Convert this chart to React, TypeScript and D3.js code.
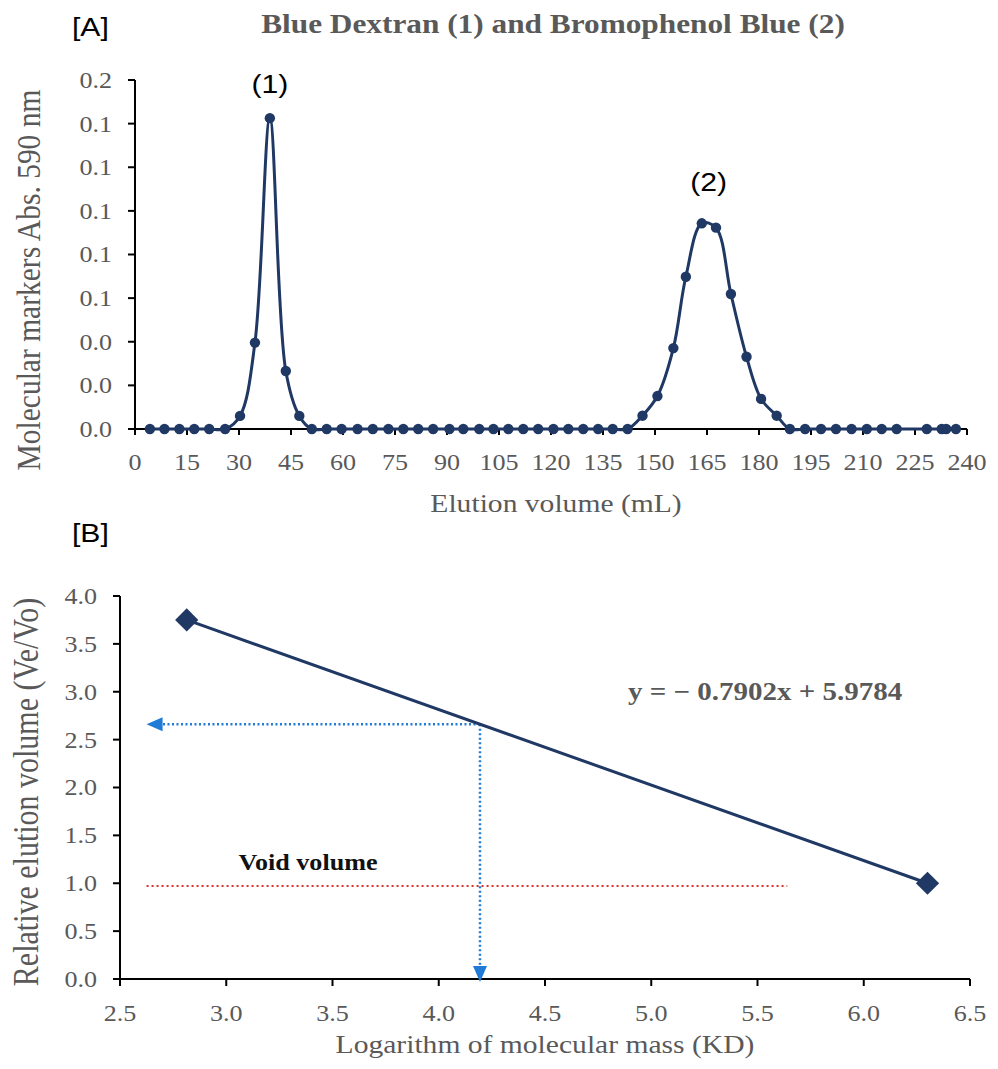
import React from 'react'
import * as d3 from 'd3'

// chart A: elution profile of the molecular markers
const elutionMl = [
  4.3, 8.5, 12.8, 17.1, 21.4, 26.0, 30.3, 34.6, 38.9, 43.5, 47.4,
  51.0, 55.3, 59.6, 64.2, 68.6, 73.1, 77.4, 81.7, 86.0, 90.7, 94.7, 99.3, 103.4, 107.7,
  112.0, 116.3, 120.7, 125.0, 129.3, 133.6, 137.8, 142.1,
  146.4, 150.7, 155.3, 158.9, 163.5, 167.6, 171.9, 176.4, 180.6, 185.1,
  188.9, 193.3, 197.9, 202.2, 206.7, 211.1, 215.4, 219.7, 228.4, 232.7, 234.0, 236.8,
]
const absorbance = [
  0, 0, 0, 0, 0, 0, 0.006, 0.0396, 0.1425, 0.0266, 0.006,
  0, 0, 0, 0, 0, 0, 0, 0, 0, 0, 0, 0, 0, 0,
  0, 0, 0, 0, 0, 0, 0, 0,
  0.0061, 0.0151, 0.0371, 0.0698, 0.0943, 0.0923, 0.0619, 0.0331, 0.0138, 0.0061,
  0, 0, 0, 0, 0, 0, 0, 0, 0, 0, 0, 0,
]
const peakLabels = [
  {label: '(1)', x: 38.9, y: 0.1425},
  {label: '(2)', x: 165.5, y: 0.0943},
]

// chart B: calibration
const logMass = [2.814, 6.3]
const relElution = [3.75, 1.0]
const readLog = 4.194
const readVeVo = 2.66
const voidVeVo = 0.97
const voidFrom = 2.625
const voidTo = 5.64
const equation = 'y = − 0.7902x + 5.9784'

const W = 998
const H = 1069
const SX = 1.16
const SERIF = '"Liberation Serif", "Times New Roman", serif'
const SANS = '"Liberation Sans", Arial, sans-serif'
const GRAY = '#595959'
const NAVY = '#203864'
const fmt = d3.format('.1f')

function T({x, y, size, anchor = 'start', weight = 'normal', fill = GRAY, family = SERIF, rotate = false, dy = '0', children}: any) {
  const tr = rotate
    ? `translate(${x},${y}) rotate(-90) scale(1,${SX})`
    : `translate(${x},${y}) scale(${SX},1)`
  return (
    <text transform={tr} fontSize={size} textAnchor={anchor} fontWeight={weight}
      fill={fill} fontFamily={family} dy={dy}>{children}</text>
  )
}

export default function App() {
  // scales A
  const xA = d3.scaleLinear().domain([0, 240]).range([135, 967])
  const yA = d3.scaleLinear().domain([0, 0.16]).range([429, 80])
  const lineA = d3.line<number>()
    .x((_, i) => xA(elutionMl[i]))
    .y(d => yA(d))
    .curve(d3.curveCatmullRom)
  const xTicksA = d3.range(0, 241, 15)
  const yTicksA = yA.ticks(8)

  // scales B
  const xB = d3.scaleLinear().domain([2.5, 6.5]).range([120, 970])
  const yB = d3.scaleLinear().domain([0, 4]).range([979, 596])
  const lineB = d3.line<number>()
    .x((_, i) => xB(logMass[i]))
    .y(d => yB(d))
  const xTicksB = d3.range(2.5, 6.51, 0.5)
  const yTicksB = d3.range(0, 4.01, 0.5)
  const diamond = d3.symbol(d3.symbolSquare, 270)()

  const hx = xB(voidFrom)
  const hy = yB(readVeVo)
  const vx = xB(readLog)
  const vy = yB(0)

  return (
    <svg width={W} height={H} style={{position: 'absolute', left: 0, top: 0, background: '#fff'}}>
      <rect width={W} height={H} fill="#fff" />

      {/* ---------- [A] ---------- */}
      <T x={72} y={36} size={26} family={SANS} fill="#000">[A]</T>
      <T x={553} y={33} size={27} anchor="middle" weight="bold">Blue Dextran (1) and Bromophenol Blue (2)</T>

      <line x1={xA(0)} x2={xA(0)} y1={yA(0.16)} y2={yA(0)} stroke="#000" strokeWidth={2} />
      <line x1={xA(0)} x2={xA(240)} y1={yA(0)} y2={yA(0)} stroke="#000" strokeWidth={2} />
      {yTicksA.map(t => (
        <g key={'ya' + t}>
          <line x1={xA(0) - 7} x2={xA(0)} y1={yA(t)} y2={yA(t)} stroke="#000" strokeWidth={2} />
          <T x={112} y={yA(t)} size={22.5} anchor="end" dy="0.35em">{fmt(t)}</T>
        </g>
      ))}
      {xTicksA.map(t => (
        <g key={'xa' + t}>
          <line x1={xA(t)} x2={xA(t)} y1={yA(0)} y2={yA(0) + 6} stroke="#000" strokeWidth={2} />
          <T x={xA(t)} y={470} size={22.5} anchor="middle">{t}</T>
        </g>
      ))}
      <T x={556} y={512} size={25.5} anchor="middle">Elution volume (mL)</T>
      <T x={40} y={280} size={29.5} anchor="middle" rotate>Molecular markers Abs. 590 nm</T>

      <path d={lineA(absorbance) || ''} fill="none" stroke={NAVY} strokeWidth={3} />
      {absorbance.map((d, i) => (
        <circle key={'pa' + i} cx={xA(elutionMl[i])} cy={yA(d)} r={5.2} fill={NAVY} />
      ))}
      {peakLabels.map(p => (
        <T key={p.label} x={xA(p.x)} y={yA(p.y) - (p.label === '(1)' ? 25 : 32)} size={26}
          family={SANS} fill="#000" anchor="middle">{p.label}</T>
      ))}

      {/* ---------- [B] ---------- */}
      <T x={72} y={542} size={26} family={SANS} fill="#000">[B]</T>

      <line x1={xB(2.5)} x2={xB(2.5)} y1={yB(4)} y2={yB(0)} stroke="#000" strokeWidth={2} />
      <line x1={xB(2.5)} x2={xB(6.5)} y1={yB(0)} y2={yB(0)} stroke="#000" strokeWidth={2} />
      {yTicksB.map(t => (
        <g key={'yb' + t}>
          <line x1={xB(2.5) - 7} x2={xB(2.5)} y1={yB(t)} y2={yB(t)} stroke="#000" strokeWidth={2} />
          <T x={97} y={yB(t)} size={22.5} anchor="end" dy="0.35em">{fmt(t)}</T>
        </g>
      ))}
      {xTicksB.map(t => (
        <g key={'xb' + t}>
          <line x1={xB(t)} x2={xB(t)} y1={yB(0)} y2={yB(0) + 7} stroke="#000" strokeWidth={2} />
          <T x={xB(t)} y={1021} size={22.5} anchor="middle">{fmt(t)}</T>
        </g>
      ))}
      <T x={545} y={1053} size={25.5} anchor="middle">Logarithm of molecular mass (KD)</T>
      <T x={38} y={792} size={30} anchor="middle" rotate>Relative elution volume (Ve/Vo)</T>

      {/* void volume */}
      <line x1={xB(voidFrom)} x2={xB(voidTo)} y1={yB(voidVeVo)} y2={yB(voidVeVo)}
        stroke="#e0302c" strokeWidth={2} strokeDasharray="2 3" />
      <T x={308} y={870} size={22.5} anchor="middle" weight="bold" fill="#111">Void volume</T>

      {/* read-off arrows */}
      <line x1={vx} x2={hx + 12} y1={hy} y2={hy} stroke="#1f7bd6" strokeWidth={2.5} strokeDasharray="2 2.5" />
      <path d={`M${hx},${hy} L${hx + 16},${hy - 7} L${hx + 16},${hy + 7} Z`} fill="#1f7bd6" />
      <line x1={vx} x2={vx} y1={hy} y2={vy - 12} stroke="#1f7bd6" strokeWidth={2.5} strokeDasharray="2 2.5" />
      <path d={`M${vx},${vy + 3} L${vx - 7},${vy - 13} L${vx + 7},${vy - 13} Z`} fill="#1f7bd6" />

      <path d={lineB(relElution) || ''} fill="none" stroke={NAVY} strokeWidth={3} />
      {relElution.map((d, i) => (
        <path key={'pb' + i} d={diamond || ''} fill={NAVY}
          transform={`translate(${xB(logMass[i])},${yB(d)}) rotate(45)`} />
      ))}
      <T x={628} y={700} size={25} weight="bold">{equation}</T>
    </svg>
  )
}
